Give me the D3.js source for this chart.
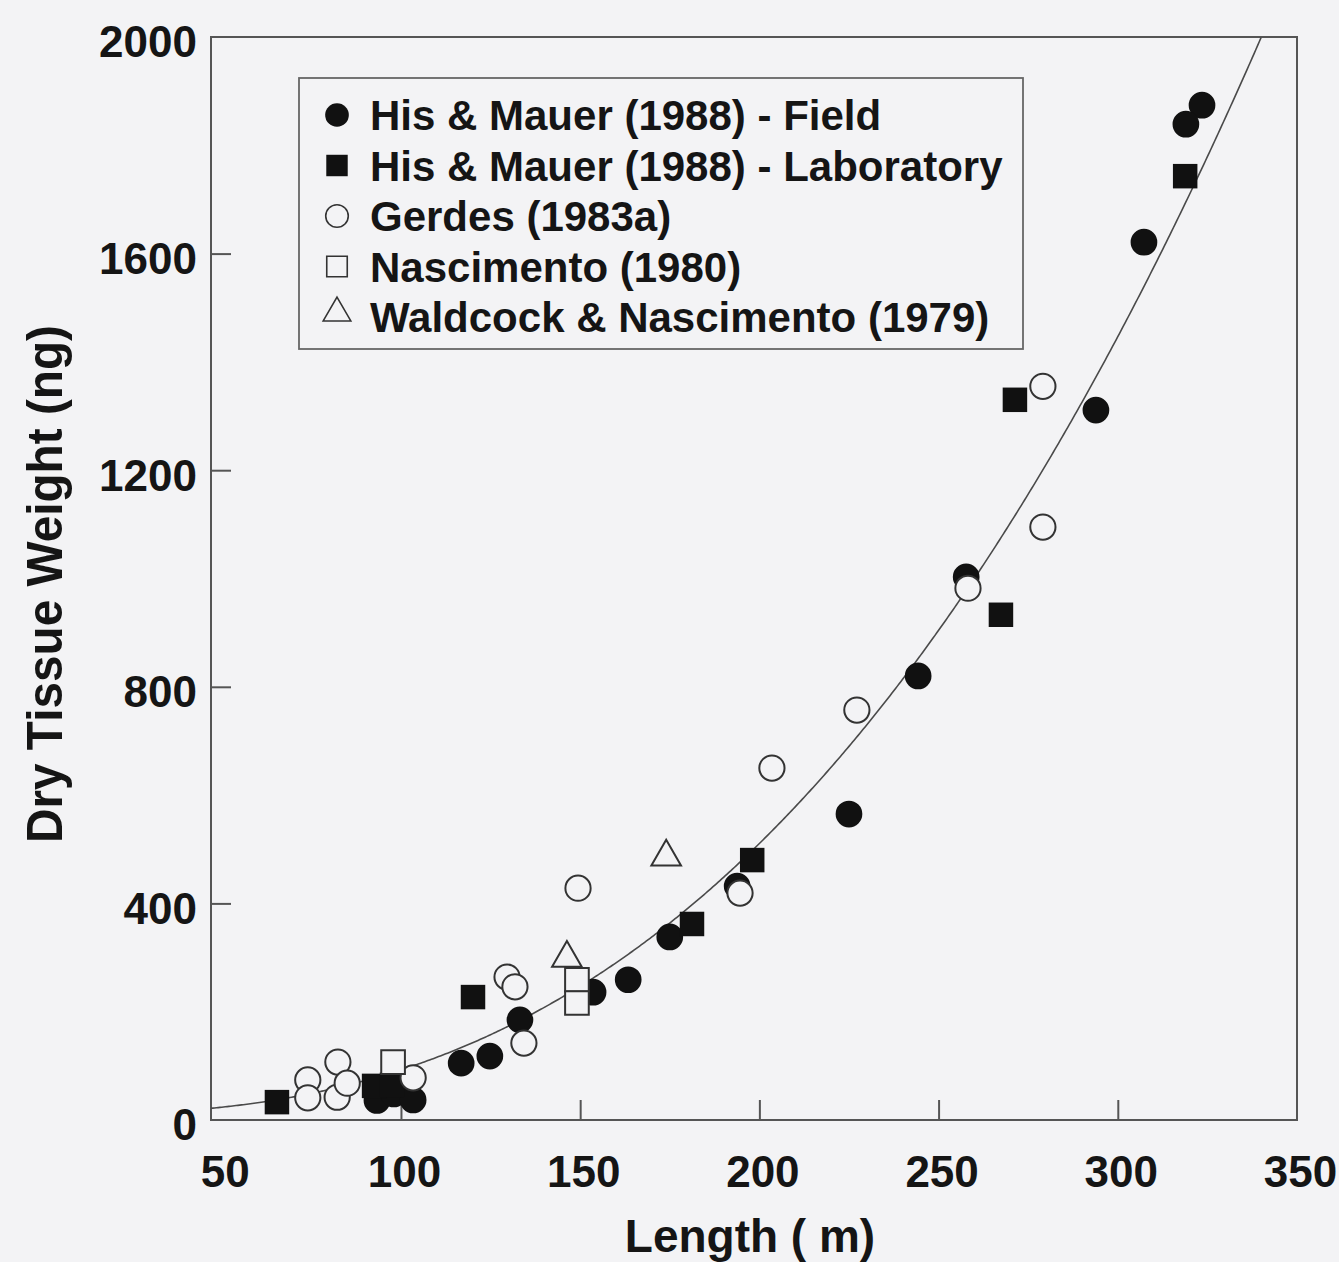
<!DOCTYPE html>
<html>
<head>
<meta charset="utf-8">
<script src="https://cdn.jsdelivr.net/npm/d3@7"></script>
<style>
  html, body { margin: 0; padding: 0; background: #f3f3f5; }
  svg { display: block; }
  text { font-family: "Liberation Sans", Arial, Helvetica, sans-serif; fill: #151515; }
</style>
</head>
<body>
<svg id="chart" width="1339" height="1262"></svg>
<script>
// Length (µm) and dry tissue weight (ng) for each source
const fieldLength = [323.5, 319, 307.3, 293.9, 257.7, 244.3, 225, 193.8, 175, 163.4, 153.6, 133.2, 124.8, 116.8, 93.3, 98, 103.4];
const fieldWeight = [1874, 1839, 1621, 1311, 1003, 820, 565, 432, 338, 259, 236, 185, 118, 105, 36, 48, 37];

const labLength = [65.4, 92.5, 97.5, 120.1, 181.2, 198, 267.4, 271.3, 318.8];
const labWeight = [33, 63, 65, 227, 362, 480, 933, 1330, 1743];

const gerdesLength = [279.1, 279.1, 258.2, 227.2, 203.5, 194.6, 149.4, 129.6, 131.8, 134.3, 74, 74, 82.4, 82.2, 85, 103.4];
const gerdesWeight = [1355, 1095, 982, 757, 650, 419, 428, 264, 246, 142, 74, 41, 107, 42, 68, 78];

const nascLength = [97.8, 149.1, 149.1];
const nascWeight = [107, 259, 216];

const waldLength = [174, 146.3];
const waldWeight = [486, 299];

// Power-law fit drawn through all sources: W = c + a * L^b
const fitOffset = 10;
const fitCoef = 5.21e-4;
const fitExponent = 2.6;
const fitRange = [47, 340];

const xTicks = [50, 100, 150, 200, 250, 300, 350];
const xInnerTicks = [100, 150, 200, 250, 300];
const yTicks = [0, 400, 800, 1200, 1600, 2000];
const yInnerTicks = [400, 800, 1200, 1600];

const legendLabels = [
  "His & Mauer (1988) - Field",
  "His & Mauer (1988) - Laboratory",
  "Gerdes (1983a)",
  "Nascimento (1980)",
  "Waldcock & Nascimento (1979)"
];

const bg = "#f3f3f5";
const ink = "#111";
const svg = d3.select("#chart");

const x = d3.scaleLinear().domain([47, 350]).range([211, 1297]);
const y = d3.scaleLinear().domain([0, 2000]).range([1120, 37]);

// background
svg.append("rect").attr("width", 1339).attr("height", 1262).attr("fill", bg);

// plot frame
svg.append("rect")
  .attr("x", x.range()[0]).attr("y", y.range()[1])
  .attr("width", x.range()[1] - x.range()[0])
  .attr("height", y.range()[0] - y.range()[1])
  .attr("fill", "none").attr("stroke", "#555").attr("stroke-width", 2);

// inward tick marks
const xTickAxis = svg.append("g").attr("transform", `translate(0,${y.range()[0]})`)
  .call(d3.axisBottom(x).tickValues(xInnerTicks).tickSize(-20).tickFormat(""));
xTickAxis.select(".domain").remove();
xTickAxis.selectAll("line").attr("stroke", "#555").attr("stroke-width", 2);

const yTickAxis = svg.append("g").attr("transform", `translate(${x.range()[0]},0)`)
  .call(d3.axisLeft(y).tickValues(yInnerTicks).tickSize(-20).tickFormat(""));
yTickAxis.select(".domain").remove();
yTickAxis.selectAll("line").attr("stroke", "#555").attr("stroke-width", 2);

// tick labels
const xLab = svg.append("g").attr("transform", `translate(0,${y.range()[0]})`)
  .call(d3.axisBottom(x).tickValues(xTicks).tickSize(0).tickPadding(36).tickFormat(d3.format("d")));
xLab.select(".domain").remove();
xLab.selectAll("text").attr("font-size", 44).attr("font-weight", "bold")
  .attr("font-family", "'Liberation Sans', Arial, sans-serif").attr("fill", "#151515")
  .attr("dx", 3);

const yLab = svg.append("g").attr("transform", `translate(${x.range()[0]},0)`)
  .call(d3.axisLeft(y).tickValues(yTicks).tickSize(0).tickPadding(14).tickFormat(d3.format("d")));
yLab.select(".domain").remove();
yLab.selectAll("text").attr("font-size", 44).attr("font-weight", "bold")
  .attr("font-family", "'Liberation Sans', Arial, sans-serif").attr("fill", "#151515")
  .attr("dy", "0.45em");

// axis titles
svg.append("text")
  .attr("x", 750).attr("y", 1252)
  .attr("text-anchor", "middle")
  .attr("font-size", 46).attr("font-weight", "bold")
  .text("Length ( m)");

svg.append("text")
  .attr("transform", "translate(62,584) rotate(-90)")
  .attr("text-anchor", "middle")
  .attr("font-size", 50).attr("font-weight", "bold")
  .attr("textLength", 518).attr("lengthAdjust", "spacingAndGlyphs")
  .text("Dry Tissue Weight (ng)");

// fitted curve
const fitPts = d3.range(fitRange[0], fitRange[1] + 0.01, 0.5)
  .map(L => [L, fitOffset + fitCoef * Math.pow(L, fitExponent)]);
svg.append("path")
  .datum(fitPts)
  .attr("fill", "none").attr("stroke", "#4a4a4a").attr("stroke-width", 1.6)
  .attr("d", d3.line().x(d => x(d[0])).y(d => y(d[1])));

// series definitions
const zip = (a, b) => a.map((v, i) => [v, b[i]]);
const series = [
  { pts: zip(fieldLength, fieldWeight), type: d3.symbolCircle, size: 560, filled: true },
  { pts: zip(labLength, labWeight), type: d3.symbolSquare, size: 600, filled: true },
  { pts: zip(gerdesLength, gerdesWeight), type: d3.symbolCircle, size: 500, filled: false },
  { pts: zip(nascLength, nascWeight), type: d3.symbolSquare, size: 560, filled: false },
  { pts: zip(waldLength, waldWeight), type: d3.symbolTriangle, size: 380, filled: false }
];

const marks = svg.append("g");
series.forEach(s => {
  marks.append("g").selectAll("path")
    .data(s.pts).join("path")
    .attr("transform", d => `translate(${x(d[0])},${y(d[1])})`)
    .attr("d", d3.symbol().type(s.type).size(s.size))
    .attr("fill", s.filled ? ink : bg)
    .attr("stroke", s.filled ? "none" : "#333")
    .attr("stroke-width", 2);
});

// legend
const lg = svg.append("g");
lg.append("rect").attr("x", 299).attr("y", 78).attr("width", 724).attr("height", 271)
  .attr("fill", bg).attr("stroke", "#666").attr("stroke-width", 1.8);
const legendSizes = [440, 460, 400, 420, 330];
legendLabels.forEach((label, i) => {
  const cy = 115 + i * 50.5;
  const s = series[i];
  lg.append("path")
    .attr("transform", `translate(337,${cy + (i === 4 ? -4 : 0)})`)
    .attr("d", d3.symbol().type(s.type).size(legendSizes[i]))
    .attr("fill", s.filled ? ink : bg)
    .attr("stroke", s.filled ? "none" : "#333")
    .attr("stroke-width", 1.6);
  lg.append("text")
    .attr("x", 370).attr("y", cy + 15)
    .attr("font-size", 42).attr("font-weight", "bold")
    .text(label);
});
</script>
</body>
</html>
